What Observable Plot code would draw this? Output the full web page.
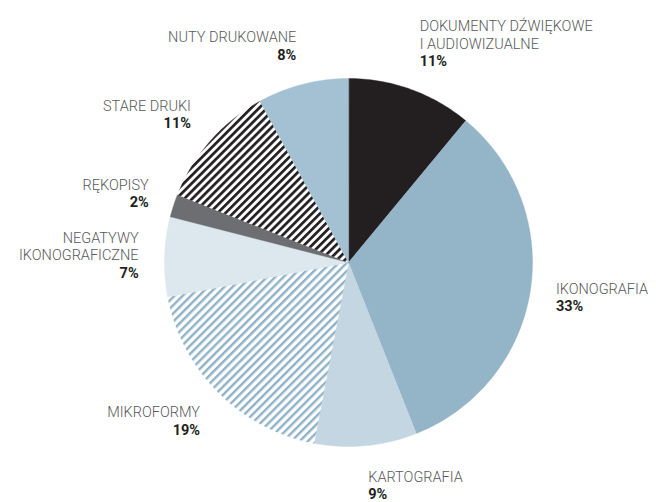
<!DOCTYPE html>
<html><head><meta charset="utf-8">
<script src="https://cdn.jsdelivr.net/npm/d3@7"></script>
<script src="https://cdn.jsdelivr.net/npm/@observablehq/plot@0.6"></script>
<style>body{margin:0;background:#fff} #chart svg{display:block}</style>
</head><body><div id="chart"></div>
<script>
// ---- data ----
const categories = [
  "DOKUMENTY DŹWIĘKOWE\nI AUDIOWIZUALNE",
  "IKONOGRAFIA",
  "KARTOGRAFIA",
  "MIKROFORMY",
  "NEGATYWY\nIKONOGRAFICZNE",
  "RĘKOPISY",
  "STARE DRUKI",
  "NUTY DRUKOWANE"
];
const values = [11, 33, 9, 19, 7, 2, 11, 8];
const palette = ["#231f20", "#94b4c8", "#c4d6e1", "url(#hatchBlue)", "#dce7ee", "#6d6e71", "url(#hatchBlack)", "#a3c1d2"];

// ---- layout ----
const W = 656, H = 502, CX = 348, CY = 262, R = 184;
const total = d3.sum(values);
let acc = 0;
const slices = categories.map((name, i) => {
  const a0 = acc / total * 2 * Math.PI; acc += values[i];
  const a1 = acc / total * 2 * Math.PI;
  return {name, value: values[i], a0, a1, mid: (a0 + a1) / 2};
});
const pts = slices.flatMap(s => {
  const n = Math.max(2, Math.ceil((s.a1 - s.a0) * 180 / Math.PI));
  const arr = [{name: s.name, x: 0, y: 0}];
  for (let k = 0; k <= n; k++) {
    const a = s.a0 + (s.a1 - s.a0) * k / n;
    arr.push({name: s.name, x: Math.sin(a), y: Math.cos(a)});
  }
  return arr;
});

const FS = 14.5, LH = 17.5, LHF = LH / FS, CAP = 10.3;
const SHIFT = 0.71 * (LHF - 1) * FS; // Plot's top line anchor offset beyond cap height
const LR = 210 / R;
const labels = slices.map(s => {
  const lines = s.name.split("\n");
  const h = lines.length * LH + CAP;
  const sin = Math.sin(s.mid), cos = Math.cos(s.mid);
  const top = -h * (1 + cos) / 2 - SHIFT;
  return {
    name: s.name, pct: s.value + "%",
    x: LR * sin,
    yName: LR * cos - top / R,
    yPct: LR * cos - (top + lines.length * LH) / R,
    side: sin > 0 ? "start" : "end"
  };
});

const textOpts = (side) => ({textAnchor: side, lineAnchor: "top", lineHeight: LHF, fontSize: FS});
const marks = [
  Plot.line(pts, {x: "x", y: "y", z: "name", fill: "name", stroke: "name", strokeWidth: 0.4, curve: "linear-closed"})
];
for (const side of ["start", "end"]) {
  const d = labels.filter(l => l.side === side);
  marks.push(Plot.text(d, {x: "x", y: "yName", text: "name", ...textOpts(side), fill: "#58595b", fontWeight: 300}));
  marks.push(Plot.text(d, {x: "x", y: "yPct", text: "pct", ...textOpts(side), fill: "#231f20", fontWeight: 700}));
}

const chart = Plot.plot({
  width: W, height: H,
  margin: 0,
  x: {domain: [-CX / R, (W - CX) / R], axis: null},
  y: {domain: [-(H - CY) / R, CY / R], axis: null},
  color: {domain: categories, range: palette, type: "ordinal"},
  style: {fontFamily: "Roboto, sans-serif", background: "#fff"},
  marks
});

const defs = d3.select(chart).insert("defs", ":first-child");
function hatch(id, color, w, p) {
  const pat = defs.append("pattern").attr("id", id).attr("patternUnits", "userSpaceOnUse")
    .attr("width", p).attr("height", p).attr("patternTransform", "rotate(45)");
  pat.append("rect").attr("width", p).attr("height", p).attr("fill", "#fff");
  pat.append("rect").attr("width", w).attr("height", p).attr("fill", color);
}
hatch("hatchBlack", "#231f20", 2.7, 5.6);
hatch("hatchBlue", "#8fb2c6", 2.4, 5.8);

document.getElementById("chart").appendChild(chart);
</script>
</body></html>
